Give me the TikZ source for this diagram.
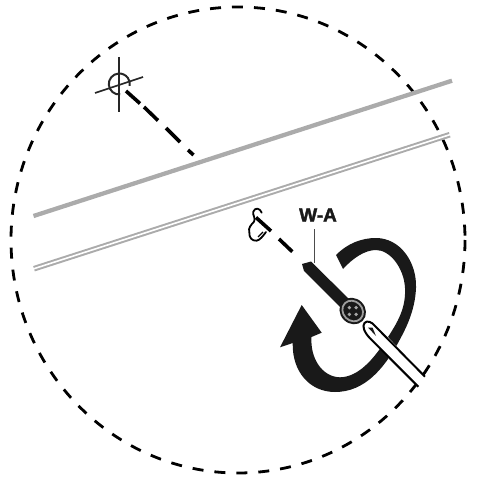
\documentclass[tikz,border=0pt]{standalone}
\usepackage{fontspec}
\setmainfont{Liberation Sans}
\tikzset{
  wall/.style={draw=black!33,line width=4.3pt},
  guide/.style={draw=black,line width=3.6pt},
  thin ink/.style={draw=black!85,line width=1.7pt},
  ink/.style={fill=black!90,draw=none},
  pale/.style={fill=black!35,draw=none}
}
\begin{document}
\begin{tikzpicture}[x=1pt,y=-1pt]
\useasboundingbox (0,0) rectangle (476,478);
% dashed circle
\draw[black,line width=2.8pt,dash pattern=on 11pt off 11pt] (238,240) ellipse [x radius=227,y radius=233];
% walls
\draw[wall] (33.5,216) -- (452,80.7);
\draw[draw=black!33,line width=5.6pt] (34,268.7) -- (449.7,134.7);
\draw[draw=white,line width=1.6pt] (33,269) -- (451,134.3);
% crosshair
\draw[thin ink] (119,57) -- (119,112);
\draw[thin ink] (95,93) -- (143,77);
\draw[black!85,line width=2pt] (119.3,84) ++(85:10.5) arc[start angle=85,delta angle=285,radius=10.5];
% guide
\draw[guide] (126,91) -- (140,103.5);
\draw[guide] (144,107) -- (158,120.5);
\draw[guide] (166,128) -- (180,142);
\draw[guide] (188,150) -- (193.5,155);
\draw[guide] (256,217.5) -- (271,231);
\draw[guide] (279,239) -- (292.3,251.7);
% keyhole
\draw[black,line width=1.8pt,line join=round,line cap=round] (261.7,212.7) .. controls (260,208) and (255,207) .. (253.3,211.7)
  .. controls (252.5,216) and (256,218) .. (254,221.7) .. controls (251,225) and (248,228) .. (249.3,232)
  .. controls (249,238) and (252,241) .. (256.7,240.7) .. controls (260,240) and (263,236) .. (266,232);
\draw[black,line width=1.2pt] (258,237) -- (263,232);
% arrow
\fill[ink] (336,255) .. controls (348,243) and (362,238) .. (376,238)
  .. controls (400,238) and (417,262) .. (416,288)
  .. controls (415,312) and (405,330) .. (398,343)
  .. controls (384,368) and (365,392) .. (335,392)
  .. controls (310,392) and (292,372) .. (292.7,343)
  -- (280,347.3) -- (301.7,305) -- (321.7,332.7) -- (311.5,337)
  .. controls (310,358) and (322,377) .. (340,377.3)
  .. controls (358,377) and (373,360) .. (386,340)
  .. controls (398,322) and (406,308) .. (405,288)
  .. controls (404,268) and (390,250) .. (376,250)
  .. controls (365,250) and (353,258) .. (343,269) -- cycle;
% screw
\fill[ink] (302,264) -- (311,261.5) -- (352,302) -- (344,311) -- (304,271) -- cycle;
\begin{scope}[rotate around={-45:(352.7,311)}]
\fill[ink] (352.7,311) ellipse [x radius=14,y radius=12.5];
\draw[black!38,line width=1.8pt] (352.7,311) ellipse [x radius=11,y radius=9.6];
\end{scope}
\fill[pale] (349.3,307.6) circle[radius=1.9];
\fill[pale] (356.1,307.6) circle[radius=1.9];
\fill[pale] (349.3,314.4) circle[radius=1.9];
\fill[pale] (356.1,314.4) circle[radius=1.9];
% screwdriver
\fill[white] (363.3,326) .. controls (365,321) and (370,320) .. (375,323.3) -- (425,376.7) -- (418.3,386.7) -- (370,338.3) -- cycle;
\draw[black,line width=2pt,line join=round] (425,376.7) -- (375,326) .. controls (372,322) and (367,320) .. (364.5,323) .. controls (362,326) and (364,332) .. (370,338.3) -- (418.3,386.7);
\fill[black!90] (368,327.5) -- (372.5,327.5) -- (376,336) -- cycle;
% label
\draw[black!70,line width=1pt] (314,229) -- (314,263);
\node[font=\bfseries\fontsize{19}{19}\selectfont,text=black!90,draw=none,inner sep=0pt] (lab) at (318,215) {\special{pdf:literal direct 2 Tr 0.4 w}W-A\special{pdf:literal direct 0 Tr 0 w}};
\end{tikzpicture}
\end{document}
